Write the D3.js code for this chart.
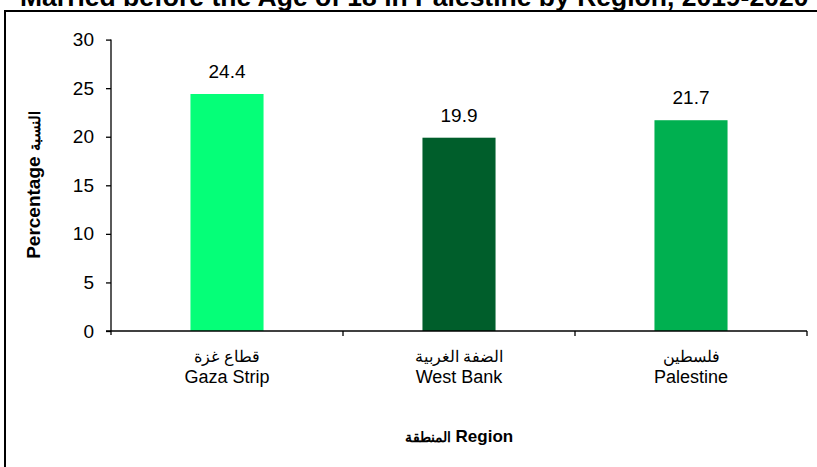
<!DOCTYPE html>
<html><head><meta charset="utf-8">
<script src="https://cdn.jsdelivr.net/npm/d3@7"></script>
<style>
html,body{margin:0;padding:0;background:#fff;}
svg{display:block;font-family:"Liberation Sans",Arial,sans-serif;}
</style></head>
<body>
<svg id="chart" width="817" height="467"></svg>
<script>
const categoriesAr = ["قطاع غزة", "الضفة الغربية", "فلسطين"];
const categoriesEn = ["Gaza Strip", "West Bank", "Palestine"];
const values = [24.4, 19.9, 21.7];
const barColors = ["#05FF78", "#005E2B", "#00B050"];
const yTicks = [0, 5, 10, 15, 20, 25, 30];
const titleText = "Married before the Age of 18 in Palestine by Region, 2019-2020";
const yTitleEn = "Percentage";
const yTitleAr = "النسبة";
const xTitleAr = "المنطقة";
const xTitleEn = "Region";

const svg = d3.select("#chart");

// frame
svg.append("path").attr("d", "M5,467V11H817").attr("fill", "none")
  .attr("stroke", "#000").attr("stroke-width", 2);

// title (clipped at top, as in the reference)
svg.append("text").attr("x", 20).attr("y", 6)
  .attr("font-size", 26.5).attr("font-weight", "bold").text(titleText);

const x = d3.scaleBand().domain(categoriesEn).range([111, 807])
  .paddingInner(0.685).paddingOuter(0.3425);
const y = d3.scaleLinear().domain([0, 30]).range([331, 39.6]);

// bars
svg.selectAll("rect.bar").data(values).join("rect").attr("class", "bar")
  .attr("x", (d, i) => x(categoriesEn[i]))
  .attr("width", x.bandwidth())
  .attr("y", d => y(d))
  .attr("height", d => y(0) - y(d))
  .attr("fill", (d, i) => barColors[i]);

// value labels
svg.selectAll("text.val").data(values).join("text").attr("class", "val")
  .attr("x", (d, i) => x(categoriesEn[i]) + x.bandwidth() / 2)
  .attr("y", d => y(d) - 16)
  .attr("text-anchor", "middle").attr("font-size", 19)
  .text(d => d.toFixed(1));

// y axis
const yAxis = svg.append("g").attr("transform", "translate(111,0)")
  .call(d3.axisLeft(y).tickValues(yTicks).tickSizeOuter(0).tickSize(5).tickPadding(12));
yAxis.select(".domain").attr("stroke", "#000").attr("stroke-width", 1.3)
  .attr("d", `M0,${y(30)}V${y(0) + 4}`);
yAxis.selectAll(".tick line").attr("stroke", "#000").attr("stroke-width", 1.3);
yAxis.selectAll(".tick text").attr("font-size", 19).attr("fill", "#000")
  .attr("font-family", "Liberation Sans, Arial, sans-serif");

// x axis line with separators
const step = x.step();
const sepX = [1, 2, 3].map(k => x.range()[0] + k * step);
svg.append("line").attr("x1", 106).attr("x2", 807).attr("y1", y(0)).attr("y2", y(0))
  .attr("stroke", "#000").attr("stroke-width", 1.3);
svg.selectAll("line.sep").data(sepX).join("line").attr("class", "sep")
  .attr("x1", d => d).attr("x2", d => d).attr("y1", y(0)).attr("y2", y(0) + 5)
  .attr("stroke", "#000").attr("stroke-width", 1.3);

// category labels
categoriesEn.forEach((c, i) => {
  const cx = x(c) + x.bandwidth() / 2;
  svg.append("text").attr("x", cx).attr("y", 362).attr("text-anchor", "middle")
    .attr("font-size", 16).text(categoriesAr[i]);
  svg.append("text").attr("x", cx).attr("y", 383).attr("text-anchor", "middle")
    .attr("font-size", 18).text(c);
});

// x axis title
const xt = svg.append("text").attr("x", 459).attr("y", 442).attr("text-anchor", "middle")
  .attr("font-weight", "bold");
xt.append("tspan").attr("font-size", 14).text(xTitleAr);
xt.append("tspan").attr("font-size", 17).text(" " + xTitleEn);

// y axis title
const yt = svg.append("text").attr("transform", "translate(40,185) rotate(-90)")
  .attr("text-anchor", "middle").attr("font-weight", "bold");
yt.append("tspan").attr("font-size", 19).text(yTitleEn + " ");
yt.append("tspan").attr("font-size", 15).text(yTitleAr);
</script>
</body></html>
